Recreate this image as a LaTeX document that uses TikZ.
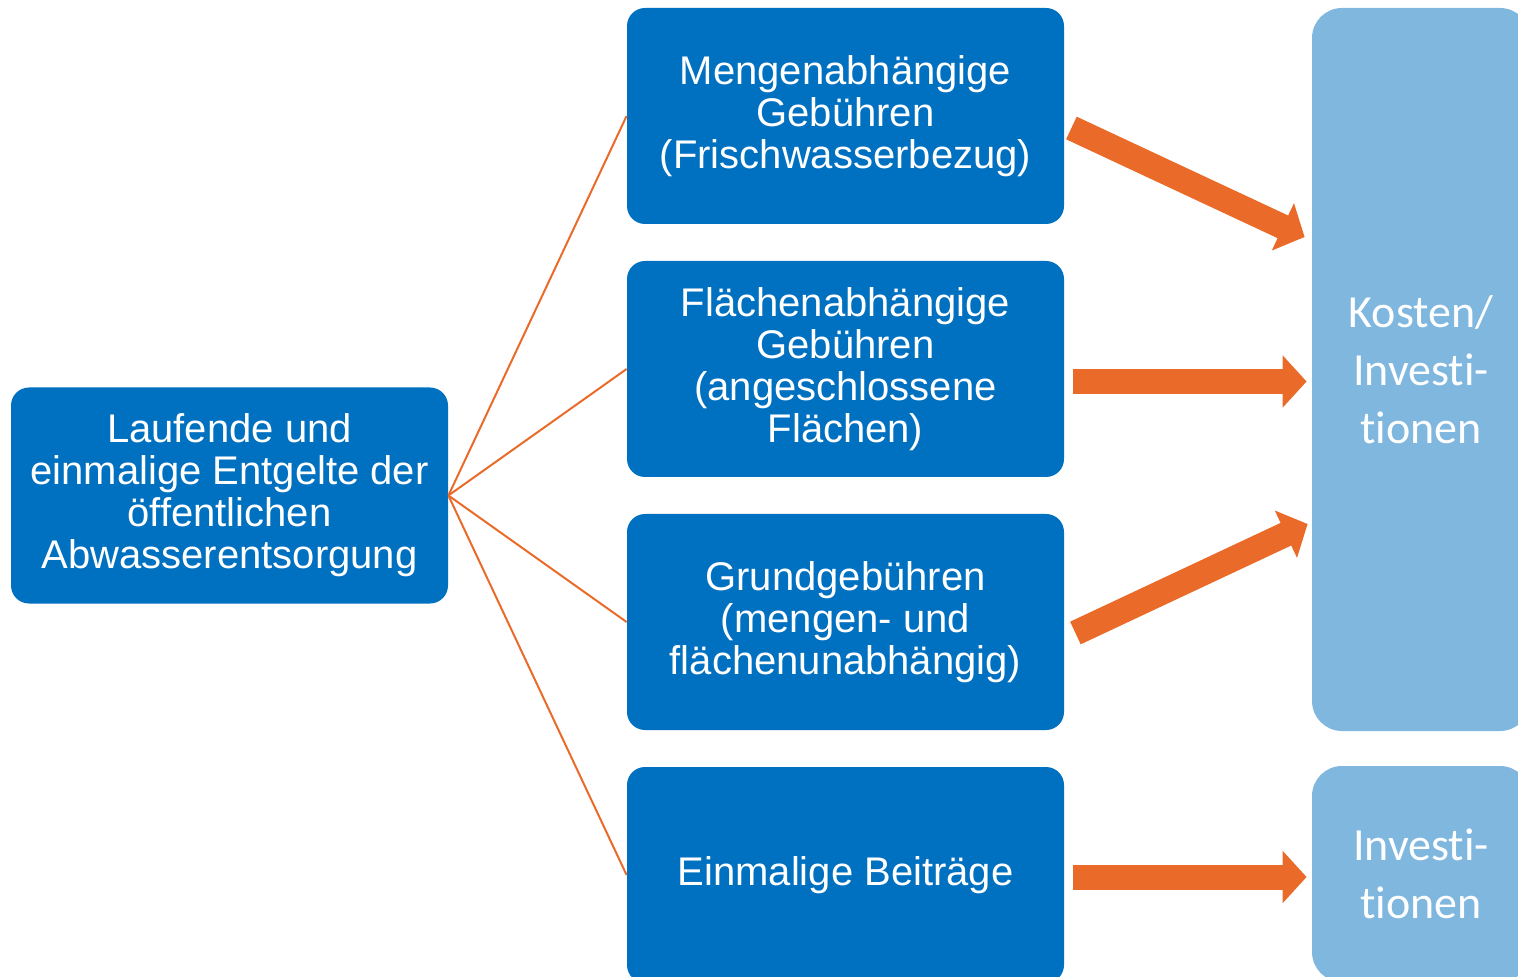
\documentclass[tikz,border=0pt]{standalone}
\usepackage{fontspec}
\setmainfont{Liberation Sans}
\newfontfamily\calibri[Ligatures=NoCommon]{Carlito}
\usepackage{tikz}
\usetikzlibrary{arrows.meta,calc}
\definecolor{dunkelblau}{HTML}{0070C0}
\definecolor{hellblau}{HTML}{7FB7DF}
\definecolor{pfeilorange}{HTML}{EA6B29}

\begin{document}
\begin{tikzpicture}[x=0.5pt,y=-0.5pt,
    box/.style={fill=dunkelblau,rounded corners=9pt,minimum width=218.5pt,minimum height=108pt,inner sep=0pt,text=white,align=center,font=\fontsize{20}{21}\selectfont},
    hbox/.style={fill=hellblau,rounded corners=15pt,minimum width=109pt,inner sep=0pt,text=white,align=center,font=\calibri\fontsize{23}{29}\selectfont},
    fat/.style={pfeilorange,line width=12.5pt,-{Triangle[length=12pt,width=25.5pt]}},
    duenn/.style={pfeilorange,line width=1pt}]
  \useasboundingbox (0,0) rectangle (1518,977);
  \clip (0,0) rectangle (1518,977);
  % linke Box
  \node[box](entgelte)at(229.5,495.5){Laufende und\\einmalige Entgelte der\\öffentlichen\\Abwasserentsorgung};
  % mittlere Spalte
  \node[box](menge)at(845.5,116){Mengenabhängige\\Gebühren\\(Frischwasserbezug)};
  \node[box](flaeche)at(845.5,369){Flächenabhängige\\Gebühren\\(angeschlossene\\Flächen)};
  \node[box](grund)at(845.5,622){Grundgebühren\\(mengen- und\\flächenunabhängig)};
  \node[box](beitrag)at(845.5,875){Einmalige Beiträge};
  % rechte Spalte
  \node[hbox,minimum height=361.5pt](kosten)at(1421,369.5){Kosten/\\Investi-\\tionen};
  \node[hbox,minimum height=108pt](invest)at(1421,874){Investi-\\tionen};
  % Verbindungen
  \foreach \z in {menge,flaeche,grund,beitrag}
    \draw[duenn] (entgelte.east) -- (\z.west);
  \draw[fat] ($(menge.east)+(7,12)$) -- ($(kosten.west)+(-7,-132.5)$);
  \draw[fat] ($(flaeche.east)+(9,12.5)$) -- ($(kosten.west)+(-5,12)$);
  \draw[fat] ($(grund.east)+(11,11)$) -- ($(kosten.west)+(-4,154.5)$);
  \draw[fat] ($(beitrag.east)+(9,2)$) -- ($(invest.west)+(-5,3)$);
\end{tikzpicture}
\end{document}
